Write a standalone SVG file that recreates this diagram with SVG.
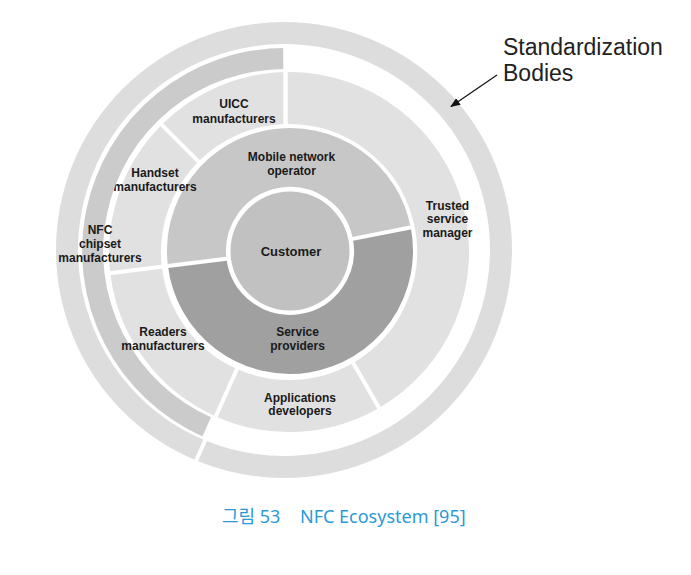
<svg xmlns="http://www.w3.org/2000/svg" width="691" height="575" viewBox="0 0 691 575">
<style>
.lbl{font-family:"Liberation Sans",Arial,sans-serif;font-weight:bold;font-size:12px;fill:#1a1a1a;text-anchor:middle}
.mid{fill:none;stroke:#e1e1e1;stroke-width:52}
.cut{stroke:#000000;stroke-width:4;stroke-linecap:butt}
.std{font-family:"Liberation Sans",Arial,sans-serif;font-size:23px;fill:#222222}
.cap{font-family:"Noto Sans","Noto Sans CJK KR",sans-serif;font-size:18px;fill:#2a9ad6}
</style>
<defs>
<marker id="ah" markerWidth="10" markerHeight="8" refX="9" refY="4" orient="auto" markerUnits="userSpaceOnUse">
<path d="M0,0 L10,4 L0,8 Z" fill="#111111"/>
</marker>
<mask id="cuts" maskUnits="userSpaceOnUse" x="0" y="0" width="691" height="575">
<rect width="691" height="575" fill="#ffffff"/>
<line class="cut" x1="109.4" y1="273.2" x2="230.4" y2="258.3"/>
<line class="cut" x1="348.9" y1="239.6" x2="414" y2="226.8"/>
<line class="cut" x1="199.9" y1="162.9" x2="160.3" y2="123.3"/>
<line class="cut" x1="352" y1="361.1" x2="380" y2="409.6"/>
<line class="cut" x1="237.8" y1="367.1" x2="193.4" y2="466.7"/>
<line class="cut" x1="285.5" y1="46" x2="285.5" y2="128" style="stroke-width:4.5"/>
</mask>
</defs>
<rect width="691" height="575" fill="#ffffff"/>

<g id="standardization-bodies">
<circle cx="284" cy="250" r="217" fill="none" stroke="#dddddd" stroke-width="22" mask="url(#cuts)"/>
<text class="std" x="503" y="55">Standardization</text>
<text class="std" x="503" y="81">Bodies</text>
</g>

<g id="customer">
<circle cx="290" cy="251" r="59.5" fill="#c1c1c1"/>
<text class="lbl" x="291" y="256" style="font-size:13px">Customer</text>
</g>

<g id="service-providers">
<path d="M381.8,233.2 A93.5,93.5 0 1 1 197.2,262.4" fill="none" stroke="#a0a0a0" stroke-width="59" mask="url(#cuts)"/>
<text class="lbl" x="297.5" y="336">Service</text>
<text class="lbl" x="297.5" y="349.5">providers</text>
</g>

<g id="mno">
<path d="M197.2,262.4 A93.5,93.5 0 0 1 381.8,233.2" fill="none" stroke="#c7c7c7" stroke-width="59" mask="url(#cuts)"/>
<text class="lbl" x="291.5" y="161">Mobile network</text>
<text class="lbl" x="291.5" y="174.5">operator</text>
</g>

<g id="uicc">
<path class="mid" d="M180.1,143.1 A154,154 0 0 1 289,98" mask="url(#cuts)"/>
<text class="lbl" x="234" y="107.5">UICC</text>
<text class="lbl" x="234" y="122.5">manufacturers</text>
</g>

<g id="tsm">
<path class="mid" d="M289,98 A154,154 0 0 1 366,385.4" mask="url(#cuts)"/>
<text class="lbl" x="447.5" y="209.5">Trusted</text>
<text class="lbl" x="447.5" y="223">service</text>
<text class="lbl" x="447.5" y="236.5">manager</text>
</g>

<g id="apps">
<path class="mid" d="M366,385.4 A154,154 0 0 1 226.4,392.7" mask="url(#cuts)"/>
<text class="lbl" x="300" y="401.5">Applications</text>
<text class="lbl" x="300" y="415">developers</text>
</g>

<g id="handset">
<path class="mid" d="M136.2,270.8 A154,154 0 0 1 180.1,143.1" mask="url(#cuts)"/>
<text class="lbl" x="155" y="176.5">Handset</text>
<text class="lbl" x="155" y="191">manufacturers</text>
</g>

<g id="nfc-chipset">
<path d="M206.7,426.8 A192.5,192.5 0 0 1 285,58.5" fill="none" stroke="#cbcbcb" stroke-width="21" mask="url(#cuts)"/>
<text class="lbl" x="100" y="233.5">NFC</text>
<text class="lbl" x="100" y="248">chipset</text>
<text class="lbl" x="100" y="262">manufacturers</text>
</g>

<g id="readers">
<path class="mid" d="M226.4,392.7 A154,154 0 0 1 136.2,270.8" mask="url(#cuts)"/>
<text class="lbl" x="163" y="336">Readers</text>
<text class="lbl" x="163" y="349.5">manufacturers</text>
</g>

<g id="connectors">
<line x1="497" y1="75" x2="451" y2="106.5" stroke="#111111" stroke-width="1.2" marker-end="url(#ah)"/>
</g>

<g id="caption">
<text class="cap" x="222" y="523">그림 53</text>
<text class="cap" x="300" y="523">NFC Ecosystem [95]</text>
</g>
</svg>
